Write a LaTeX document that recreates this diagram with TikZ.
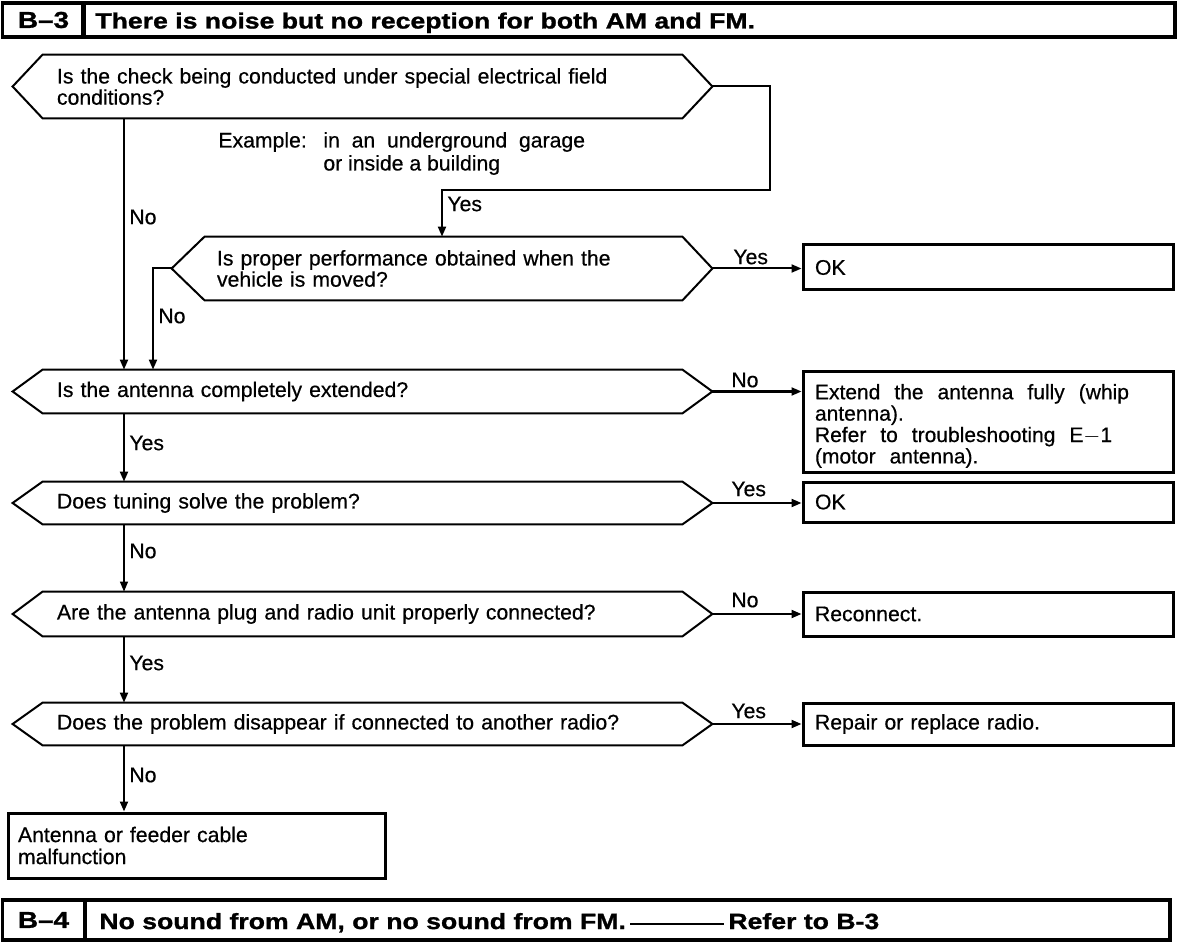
\documentclass[tikz,border=0pt]{standalone}
\usepackage{fontspec}
\setmainfont[FakeBold=0.5]{Liberation Sans}
\newfontfamily\headfont[FakeStretch=1.21, BoldFeatures={FakeBold=1.2}]{Liberation Sans}
\usetikzlibrary{arrows.meta,calc}
\newcommand\mainsz{\fontsize{10.6}{10.6}\selectfont}
\newcommand\boxsz{\fontsize{10.5}{10.7}\selectfont}
\newcommand\headsz{\headfont\bfseries\fontsize{11}{12}\selectfont}
\newcommand\hexof[3]{\draw[hexline] (#1.west) -- ([xshift=#2]#1.north west) -- ([xshift=-#3]#1.north east) -- (#1.east) -- ([xshift=-#3]#1.south east) -- ([xshift=#2]#1.south west) -- cycle;}
\begin{document}
\begin{tikzpicture}[x=0.5pt,y=-0.5pt,
  every node/.style={font=\mainsz, inner sep=0pt},
  q/.style={rectangle, minimum width=349.5pt, inner xsep=22pt, text width=305.5pt, align=left},
  ans/.style={draw, line width=1.5pt, minimum width=185pt, inner xsep=6pt, text width=173pt, align=left},
  hbox/.style={draw, line width=1.8pt, font=\headsz},
  conn/.style={line width=1pt},
  arr/.style={conn, -{Triangle[length=5pt,width=4pt]}},
  lbl/.style={anchor=west, font=\mainsz},
  hexline/.style={line width=1pt}
]
\fill[white] (0,0) rectangle (1200,952);
\useasboundingbox (0,0) rectangle (1200,952);

% header
\node[hbox, minimum width=41pt, minimum height=17pt, font=\headsz\fontsize{11.5}{12}\selectfont] (h3a) at (43.5,20) {B–3};
\node[hbox, minimum width=546pt, minimum height=17pt] (h3b) at (629,20) {};
\node[anchor=base west, font=\headsz] (h3t) at (95,28.5) {There is noise but no reception for both AM and FM.};

% questions
\node[q, minimum height=31.5pt] (q1) at (362.5,86.5) {Is the check being conducted under special electrical field\\conditions?};
\node[q, minimum width=270pt, inner xsep=22.5pt, text width=225pt, minimum height=31.5pt] (q2) at (442,268.5) {Is proper performance obtained when the\\vehicle is moved?};
\node[q, minimum height=21.5pt] (q3) at (362.5,391.5) {Is the antenna completely extended?};
\node[q, minimum height=21pt] (q4) at (362.5,503) {Does tuning solve the problem?};
\node[q, minimum height=22pt] (q5) at (362.5,614) {Are the antenna plug and radio unit properly connected?};
\node[q, minimum height=21pt] (q6) at (362.5,724) {Does the problem disappear if connected to another radio?};
\hexof{q1}{15pt}{15pt}
\hexof{q2}{16.5pt}{15pt}
\hexof{q3}{15pt}{15pt}
\hexof{q4}{15pt}{15pt}
\hexof{q5}{15pt}{15pt}
\hexof{q6}{15pt}{15pt}

% example text
\node[anchor=west] (ex1) at (218,142) {Example:};
\node[anchor=west, align=left, font=\fontsize{10.6}{11.5}\selectfont] (ex2) at (323,153.5) {in\ \ an\ \ underground\ \ garage\\or inside a building};

% answers
\node[ans, minimum height=22.5pt] (ok1) at (988,267.5) {OK};
\node[ans, minimum height=50pt, font=\boxsz] (ext) at (988,422) {\rule{0pt}{11.5pt}Extend\ \ the\ \ antenna\ \ fully\ \ (whip\\antenna).\\Refer\ \ to\ \ troubleshooting\ \ E$-$1\\(motor\ \ antenna).};
\node[ans, minimum height=20pt] (ok2) at (988,502) {OK};
\node[ans, minimum height=22pt] (rec) at (988,614) {Reconnect.};
\node[ans, minimum height=21pt] (rep) at (988,724) {Repair or replace radio.};
\node[ans, minimum width=188.5pt, inner xsep=5pt, text width=178.5pt, minimum height=32.5pt, font=\fontsize{10.6}{11}\selectfont] (fin) at (196.5,845.5) {Antenna\ or\ feeder\ cable\\malfunction};

% footer
\node[hbox, minimum width=41pt, minimum height=20pt, font=\headsz\fontsize{11.5}{12}\selectfont] (f4a) at (43.5,920) {B–4};
\node[hbox, minimum width=542.5pt, minimum height=20pt] (f4b) at (627.5,920) {};
\node[anchor=base west, font=\headsz, inner xsep=2pt] (ft1) at (95,929) {No sound from AM, or no sound from FM.};
\node[anchor=base west, font=\headsz, inner xsep=2pt] (ft2) at (724,929) {Refer to B-3};
\draw[line width=0.8pt] ([yshift=2.5pt]ft1.base east) -- ([yshift=2.5pt]ft2.base west);

% helper coordinates
\coordinate (spine) at (124,0);
\coordinate (c1) at (770,190);
\coordinate (c2) at (153,268.5);

% connectors
\draw[arr] (q1.east) -| (c1) -| (q2.north);
\draw[arr] (q1.south -| spine) -- (q3.north -| spine);
\draw[arr] (q2.west) -| (q3.north -| c2);
\draw[arr] (q2.east) -- (q2.east -| ok1.west);
\draw[arr] (q3.east) -- (q3.east -| ext.west);
\draw[arr] (q3.south -| spine) -- (q4.north -| spine);
\draw[arr] (q4.east) -- (q4.east -| ok2.west);
\draw[arr, line width=0.6pt] (q4.south -| spine) -- (q5.north -| spine);
\draw[arr] (q5.east) -- (q5.east -| rec.west);
\draw[arr] (q5.south -| spine) -- (q6.north -| spine);
\draw[arr] (q6.east) -- (q6.east -| rep.west);
\draw[arr] (q6.south -| spine) -- (fin.north -| spine);

% labels
\node[lbl] (l1) at (447,204) {Yes};
\node[lbl] (l2) at (129,217) {No};
\node[lbl] (l3) at (158,316) {No};
\node[lbl] (l4) at (733,257) {Yes};
\node[lbl] (l5) at (731,380) {No};
\node[lbl] (l6) at (129,443) {Yes};
\node[lbl] (l7) at (731,489) {Yes};
\node[lbl] (l8) at (129,551) {No};
\node[lbl] (l9) at (731,600) {No};
\node[lbl] (l10) at (129,663) {Yes};
\node[lbl] (l11) at (731,711) {Yes};
\node[lbl] (l12) at (129,775) {No};
\end{tikzpicture}
\end{document}
